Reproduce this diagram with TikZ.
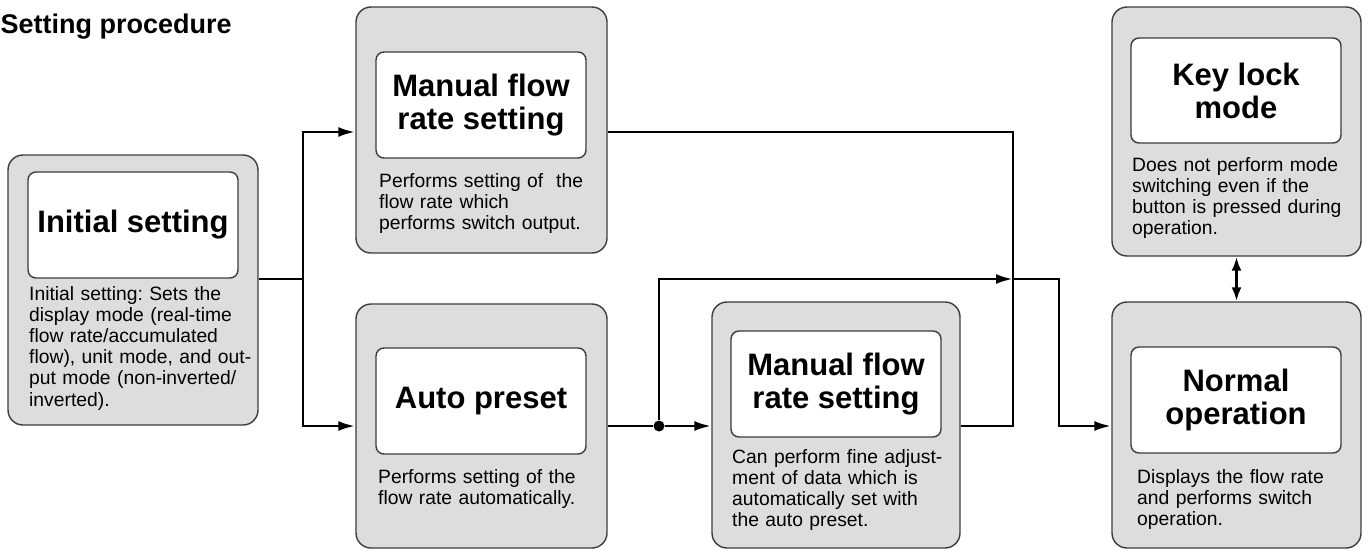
\documentclass[tikz,border=0pt]{standalone}
\usepackage{fontspec}
\setmainfont{Liberation Sans}
\usetikzlibrary{arrows.meta}
\definecolor{boxgray}{RGB}{221,221,221}
\definecolor{edgegray}{RGB}{60,60,60}
\frenchspacing
\begin{document}
\begin{tikzpicture}[x=1pt,y=-1pt,
  outerbox/.style={draw=edgegray,line width=1.4pt,fill=boxgray,rounded corners=15pt,
    rectangle,inner sep=0pt,minimum width=#1},
  outerbox/.default=250pt,
  titlebox/.style={draw=edgegray,line width=1.4pt,fill=white,rounded corners=8pt,
    rectangle,inner sep=0pt,minimum width=210pt,minimum height=106pt,align=center,
    font=\fontsize{31}{33}\selectfont\bfseries},
  desc/.style={anchor=base west,inner sep=0pt,text width=240pt,align=left,
    font=\fontsize{19.3}{21.2}\selectfont},
  conn/.style={line width=2.8pt,black},
  arr/.style={conn,-{Latex[length=17pt,width=10pt]}},
  dblarr/.style={conn,{Latex[length=14pt,width=10pt]}-{Latex[length=14pt,width=10pt]}},
  jdot/.style={circle,fill=black,inner sep=0pt,minimum size=11pt}
]
\useasboundingbox (0,0) rectangle (1369,550);

\node[anchor=base west,inner sep=0pt,font=\fontsize{27}{30}\selectfont\bfseries] (title) at (0.5,33) {Setting procedure};

% outer boxes
\node[outerbox=250pt,minimum height=270pt] (init) at (133,290) {};
\node[outerbox=251pt,minimum height=246pt] (man1) at (481.5,130) {};
\node[outerbox=251pt,minimum height=244pt] (auto) at (481.5,426) {};
\node[outerbox=248pt,minimum height=246pt] (man2) at (836,425) {};
\node[outerbox=249pt,minimum height=249pt] (key) at (1236.5,131.5) {};
\node[outerbox=249pt,minimum height=246pt] (norm) at (1236.5,425) {};

% title boxes
\node[titlebox] (init-t) at (133,225) {Initial setting};
\node[titlebox] (man1-t) at (481,105) {Manual flow\\rate setting};
\node[titlebox] (auto-t) at (481,401) {Auto preset};
\node[titlebox] (man2-t) at (836,384) {Manual flow\\rate setting};
\node[titlebox,minimum height=105pt] (key-t) at (1236,90.5) {Key lock\\mode};
\node[titlebox] (norm-t) at (1236,400) {Normal\\operation};

% descriptions
\node[desc] (init-d) at (29,300) {Initial setting: Sets the\\display mode (real-time\\flow rate/accumulated\\flow), unit mode, and out-\\put mode (non-inverted/\\inverted).};
\node[desc] (man1-d) at (379,187) {Performs setting of\ \ the\\flow rate which\\performs switch output.};
\node[desc] (auto-d) at (378,483) {Performs setting of the\\flow rate automatically.};
\node[desc] (man2-d) at (732,463) {Can perform fine adjust-\\ment of data which is\\automatically set with\\the auto preset.};
\node[desc] (key-d) at (1132,171) {Does not perform mode\\switching even if the\\button is pressed during\\operation.};
\node[desc] (norm-d) at (1137,483) {Displays the flow rate\\and performs switch\\operation.};

% connectors
\coordinate (j1) at (303,279);
\node[jdot] (dot) at (659,426) {};
\coordinate (c1) at (1013,279);
\coordinate (c2) at (1013,426);
\coordinate (c3) at (1059,279);

\draw[conn] (init.east |- j1) -- (j1);
\draw[arr] (j1) |- ([yshift=-2pt]man1.west);
\draw[arr] (j1) |- (auto.west);
\draw[conn] (auto.east) -- (dot);
\draw[arr] (dot) -- (man2.west |- dot);
\draw[arr] (dot) |- (c1);
\draw[arr] (c1) -- (c3) |- (norm.west |- c2);
\draw[conn] ([yshift=-2pt]man1.east) -| (c2) -- (man2.east |- c2);
\draw[dblarr] (key.south) -- (norm.north);
\end{tikzpicture}
\end{document}
